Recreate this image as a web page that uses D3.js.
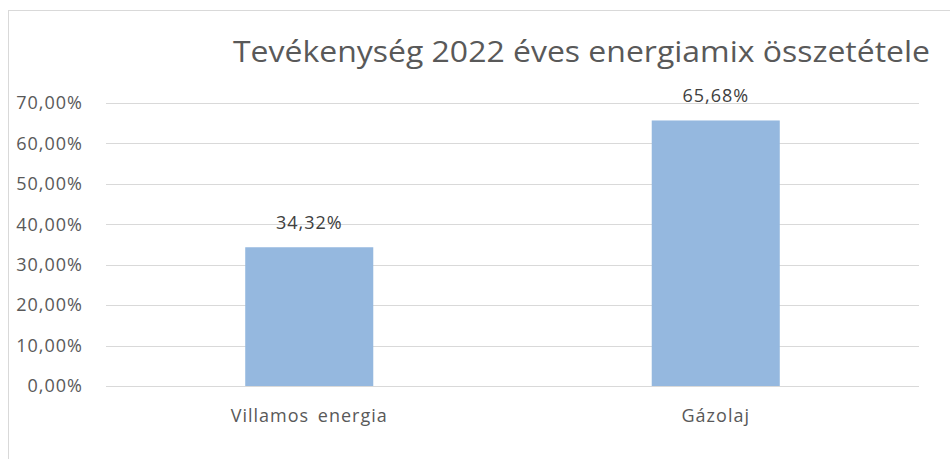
<!DOCTYPE html>
<html>
<head>
<meta charset="utf-8">
<script src="https://cdn.jsdelivr.net/npm/d3@7"></script>
<style>
  body { margin: 0; background: #fff; }
  text { font-family: "Open Sans", sans-serif; }
</style>
</head>
<body>
<div id="chart"></div>
<script>
// chart data
var categories = ['Villamos energia', 'Gázolaj'];
var values = [34.32, 65.68];
var yTicks = [0, 10, 20, 30, 40, 50, 60, 70];
var title = 'Tevékenység 2022 éves energiamix összetétele';

var svgWidth = 950;
var svgHeight = 459;

var margin = {
    top: 103,
    right: 31,
    bottom: 73,
    left: 106
};

var width = svgWidth - margin.left - margin.right;
var height = svgHeight - margin.top - margin.bottom;

var fmt = v => v.toFixed(2).replace('.', ',') + '%';

var svg = d3.select('#chart')
    .append('svg')
    .attr('width', svgWidth)
    .attr('height', svgHeight);

svg.append('rect')
    .attr('x', 8.5)
    .attr('y', 10.5)
    .attr('width', 1000)
    .attr('height', 1000)
    .attr('fill', 'none')
    .attr('stroke', '#d9d9d9');

var chartGroup = svg.append('g')
    .attr('transform', `translate(${margin.left}, ${margin.top})`);

var xScale = d3.scaleBand()
    .domain(categories)
    .range([0, width]);

var yScale = d3.scaleLinear()
    .domain([0, 70])
    .range([height, 0]);

var barWidth = xScale.bandwidth() * 0.315;

// gridlines
chartGroup.selectAll('line.grid')
    .data(yTicks)
    .enter()
    .append('line')
    .attr('class', 'grid')
    .attr('x1', 0)
    .attr('x2', width)
    .attr('y1', d => Math.round(yScale(d)) + 0.5)
    .attr('y2', d => Math.round(yScale(d)) + 0.5)
    .attr('stroke', '#d9d9d9')
    .attr('stroke-width', 1);

var leftAxis = d3.axisLeft(yScale)
    .tickValues(yTicks)
    .tickFormat(fmt)
    .tickSize(0)
    .tickPadding(23);

var yAxis = chartGroup.append('g').call(leftAxis);
yAxis.select('.domain').remove();
yAxis.selectAll('text')
    .attr('fill', '#595959')
    .style('font-size', '18px')
    .style('letter-spacing', '1px');

var bottomAxis = d3.axisBottom(xScale)
    .tickSize(0)
    .tickPadding(23);

var xAxis = chartGroup.append('g')
    .attr('transform', `translate(0, ${height})`)
    .call(bottomAxis);
xAxis.select('.domain').remove();
xAxis.selectAll('text')
    .attr('fill', '#595959')
    .style('font-size', '18px')
    .style('letter-spacing', '1px')
    .style('word-spacing', '3px');

chartGroup.selectAll('rect.bar')
    .data(values)
    .enter()
    .append('rect')
    .attr('class', 'bar')
    .attr('x', (d, i) => xScale(categories[i]) + xScale.bandwidth() / 2 - barWidth / 2)
    .attr('y', d => yScale(d))
    .attr('width', barWidth)
    .attr('height', d => height - yScale(d))
    .attr('fill', '#95b8df');

chartGroup.selectAll('text.label')
    .data(values)
    .enter()
    .append('text')
    .attr('class', 'label')
    .attr('x', (d, i) => xScale(categories[i]) + xScale.bandwidth() / 2)
    .attr('y', d => yScale(d) - 18)
    .attr('text-anchor', 'middle')
    .attr('fill', '#404040')
    .style('font-size', '18px')
    .style('letter-spacing', '1px')
    .text(fmt);

svg.append('text')
    .attr('x', 233)
    .attr('y', 62)
    .attr('fill', '#595959')
    .attr('textLength', 697)
    .attr('lengthAdjust', 'spacingAndGlyphs')
    .style('font-size', '30px')
    .text(title);
</script>
</body>
</html>
